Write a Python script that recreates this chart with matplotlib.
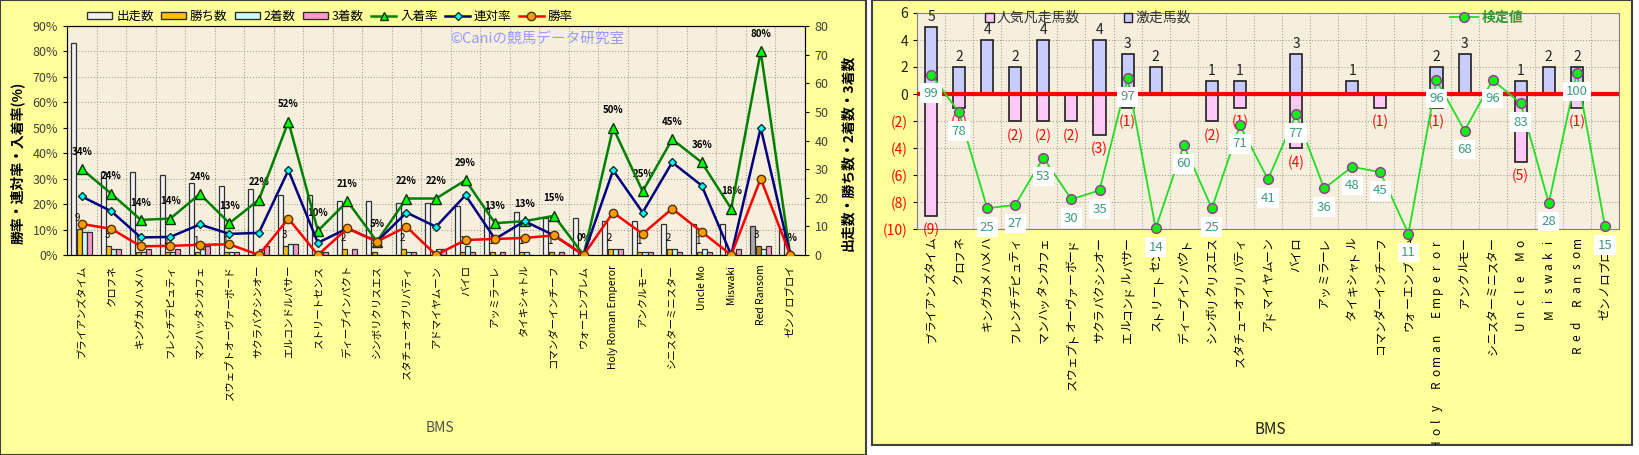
import matplotlib
matplotlib.use('Agg')
import matplotlib.pyplot as plt
import matplotlib.transforms as mtransforms
from matplotlib.patches import Patch
from matplotlib.lines import Line2D
import numpy as np

plt.rcParams['font.family'] = ['Noto Sans CJK JP', 'DejaVu Sans']

# ---- data ----
names = ['ブライアンズタイム', 'クロフネ', 'キングカメハメハ', 'フレンチデピュティ', 'マンハッタンカフェ',
         'スウェプトオーヴァーボード', 'サクラバクシンオー', 'エルコンドルパサー', 'ストリートセンス',
         'ディープインパクト', 'シンボリクリスエス', 'スタチューオブリバティ', 'アドマイヤムーン', 'バイロ',
         'アッミラーレ', 'タイキシャトル', 'コマンダーインチーフ', 'ウォーエンブレム', 'Holy Roman Emperor',
         'アンクルモー', 'シニスターミニスター', 'Uncle Mo', 'Miswaki', 'Red Ransom', 'ゼンノロブロイ']

runs = [74, 29, 29, 28, 25, 24, 23, 21, 21, 19, 19, 18, 18, 17, 16, 15, 13, 13, 12, 12, 11, 11, 11, 10, 9]
wins = [9, 3, 1, 1, 1, 1, 0, 3, 0, 2, 1, 2, 0, 1, 1, 1, 1, 0, 2, 1, 2, 1, 0, 3, 0]
seconds = [8, 2, 1, 1, 2, 1, 2, 4, 1, 0, 0, 1, 2, 3, 0, 1, 0, 0, 2, 1, 2, 2, 0, 2, 0]
thirds = [8, 2, 2, 2, 3, 1, 3, 4, 1, 2, 0, 1, 2, 1, 1, 0, 1, 0, 2, 1, 1, 1, 2, 3, 0]

win_rate = [12.2, 10.3, 3.4, 3.6, 4.0, 4.2, 0, 14.3, 0, 10.5, 5.3, 11.1, 0, 5.9, 6.3, 6.7, 7.7, 0,
            16.7, 8.3, 18.2, 9.1, 0, 30.0, 0]
ren_rate = [23.0, 17.2, 6.9, 7.1, 12.0, 8.3, 8.7, 33.3, 4.8, 10.5, 5.3, 16.7, 11.1, 23.5, 6.3, 13.3,
            7.7, 0, 33.3, 16.7, 36.4, 27.3, 0, 50.0, 0]
place_rate = [33.8, 24.1, 13.8, 14.3, 24.0, 12.5, 21.7, 52.4, 9.5, 21.1, 5.3, 22.2, 22.2, 29.4, 12.5,
              13.3, 15.4, 0, 50.0, 25.0, 45.5, 36.4, 18.2, 80.0, 0]
place_labels = ['34%', '24%', '14%', '14%', '24%', '13%', '22%', '52%', '10%', '21%', '5%', '22%', '22%',
                '29%', '13%', '13%', '15%', '0%', '50%', '25%', '45%', '36%', '18%', '80%', '0%']

kentei = [99, 78, 25, 27, 53, 30, 35, 97, 14, 60, 25, 71, 41, 77, 36, 48, 45, 11, 96, 68, 96, 83, 28, 100, 15]
gekiso = [5, 2, 4, 2, 4, 0, 4, 3, 2, 0, 1, 1, 0, 3, 0, 1, 0, 0, 2, 3, 0, 1, 2, 2, 0]
bonso = [9, 1, 0, 2, 2, 2, 3, 1, 0, 0, 2, 1, 0, 4, 0, 0, 1, 0, 1, 0, 0, 5, 0, 1, 0]

r_ticks = [-10, -8, -6, -4, -2, 0, 2, 4, 6]
r_ticklabels = ['(10)', '(8)', '(6)', '(4)', '(2)', '0', '2', '4', '6']

W, H = 1640, 455
fig = plt.figure(figsize=(16.4, 4.55), dpi=100)
fig.patch.set_facecolor('white')


def fx(px):
    return px / W


def fy(py):
    return 1 - py / H


def panel(rect):
    p = fig.add_axes(rect, zorder=-5)
    p.set_facecolor('#FFFF99')
    p.set_xticks([])
    p.set_yticks([])
    for s in p.spines.values():
        s.set_color('#404040')
        s.set_linewidth(1.5)
    return p


pl = panel([0, 0, fx(866), 1])
pr = panel([fx(872), 10 / H, fx(1632) - fx(872), 445 / H])

x = np.arange(len(names))
grid_c = '#A8A294'

# ---- left chart ----
ax1 = fig.add_axes([fx(67), fy(255), fx(805) - fx(67), fy(26) - fy(255)])
ax1.set_facecolor('#F6EFDD')
ax1.set_xlim(0, len(names))
ax1.set_ylim(0, 80)
run_col = ['#F2F2F2'] * len(names)
win_col = ['#FFC000'] * len(names)
run_col[23] = '#A8A8A8'
win_col[23] = '#B8860B'
ax1.bar(x + 0.22, runs, 0.17, color=run_col, edgecolor='#303030', lw=0.9, zorder=3)
ax1.bar(x + 0.41, wins, 0.17, color=win_col, edgecolor='#303030', lw=0.9, zorder=3)
ax1.bar(x + 0.58, seconds, 0.17, color='#CCFFFF', edgecolor='#303030', lw=0.9, zorder=3)
ax1.bar(x + 0.75, thirds, 0.17, color='#FF99CC', edgecolor='#303030', lw=0.9, zorder=3)
for i, w in enumerate(wins):
    if w:
        ax1.annotate(str(w), (i + 0.41, w), xytext=(-1, 8), textcoords='offset points',
                     ha='center', va='center', fontsize=7, zorder=4)

ax1.set_xticks(np.arange(len(names) + 1), minor=True)
ax1.grid(which='minor', axis='x', ls=':', color=grid_c, lw=0.8, zorder=1)
for p in range(10, 90, 10):
    ax1.axhline(p * 80 / 90, ls=':', color=grid_c, lw=0.8, zorder=1)
ax1.set_xticks(x + 0.5)
ax1.set_xticklabels(names, rotation=90, fontsize=7.5)
ax1.tick_params(axis='x', which='major', length=0, pad=7)
ax1.tick_params(axis='x', which='minor', length=0)
for s in ax1.spines.values():
    s.set_color('#606060')

tw = ax1.twinx()
tw.set_ylim(0, 90)
tw.yaxis.tick_left()
tw.set_yticks(range(0, 91, 10))
tw.set_yticklabels([f'{v}%' for v in range(0, 91, 10)])
tw.tick_params(axis='y', labelsize=9, labelcolor='#404040', length=3)
ax1.yaxis.tick_right()
ax1.set_yticks(range(0, 81, 10))
ax1.tick_params(axis='y', labelsize=9, labelcolor='#404040', length=3, pad=4)

tw.plot(x + 0.5, place_rate, color='#008000', lw=1.8, marker='^', ms=6.5, mfc='#00FF00', mec='#103010', zorder=5)
tw.plot(x + 0.5, ren_rate, color='#000080', lw=1.8, marker='D', ms=4.5, mfc='#00FFFF', mec='#103030', zorder=6)
tw.plot(x + 0.5, win_rate, color='#FF0000', lw=1.8, marker='o', ms=6, mfc='#FF9900', mec='#553300', zorder=7)
for i, (v, s) in enumerate(zip(place_rate, place_labels)):
    tw.annotate(s, (i + 0.5, v), xytext=(0, 12.5), textcoords='offset points',
                ha='center', va='center', fontsize=7, fontweight='bold')
tw.text(0.519, 0.94, '©Caniの競馬データ研究室', transform=tw.transAxes, color='#9999FF',
        fontsize=10.5, ha='left', va='center')

fig.legend(handles=[Patch(fc='#F2F2F2', ec='#303030'), Patch(fc='#FFC000', ec='#303030'),
                    Patch(fc='#CCFFFF', ec='#303030'), Patch(fc='#FF99CC', ec='#303030'),
                    Line2D([], [], color='#008000', lw=1.8, marker='^', ms=6, mfc='#00FF00', mec='#103010'),
                    Line2D([], [], color='#000080', lw=1.8, marker='D', ms=4.5, mfc='#00FFFF', mec='#103030'),
                    Line2D([], [], color='#FF0000', lw=1.8, marker='o', ms=6, mfc='#FF9900', mec='#553300')],
           labels=['出走数', '勝ち数', '2着数', '3着数', '入着率', '連対率', '勝率'],
           loc='center', bbox_to_anchor=(fx(330), fy(16.5)), ncol=7, frameon=False, fontsize=9,
           handlelength=2.0, handleheight=0.5, handletextpad=0.3, columnspacing=0.6, borderpad=0)

fig.text(fx(17), fy(163), '勝率・連対率・入着率(%)', rotation=90, ha='center', va='center',
         fontsize=10, fontweight='bold')
fig.text(fx(848), fy(153), '出走数・勝ち数・2着数・3着数', rotation=90, ha='center', va='center',
         fontsize=10, fontweight='bold')
fig.text(fx(440), fy(428), 'BMS', ha='center', va='center', fontsize=10, color='#505050')

# ---- right chart ----
ax2 = fig.add_axes([fx(917), fy(229), fx(1619) - fx(917), fy(13) - fy(229)])
ax2.set_facecolor('#F6EFDD')
ax2.set_xlim(0, len(names))
ax2.set_ylim(-10, 6)
ax2.bar(x + 0.5, gekiso, 0.43, color='#C8CCFF', edgecolor='#202020', lw=1.2, zorder=3)
ax2.bar(x + 0.5, [-b for b in bonso], 0.43, color='#FFC8F6', edgecolor='#202020', lw=1.2, zorder=3)
ax2.axhline(0, color='#FF0000', lw=3, zorder=4)
for i, g in enumerate(gekiso):
    if g:
        ax2.annotate(str(g), (i + 0.5, g), xytext=(0, 7), textcoords='offset points',
                     ha='center', va='center', fontsize=10, color='#202020', zorder=5)
for i, b in enumerate(bonso):
    if b:
        ax2.annotate(f'({b})', (i + 0.5, -b), xytext=(0, -10.5), textcoords='offset points',
                     ha='center', va='center', fontsize=10, color='#FF0000', zorder=5,
                     annotation_clip=False)

ax2.set_xticks(np.arange(len(names) + 1), minor=True)
ax2.grid(which='minor', axis='x', ls=':', color=grid_c, lw=0.8, zorder=1)
ax2.set_yticks(r_ticks)
ax2.set_yticklabels(r_ticklabels)
ax2.grid(which='major', axis='y', ls=':', color=grid_c, lw=0.8, zorder=1)
for lab, v in zip(ax2.get_yticklabels(), r_ticks):
    lab.set_color('#FF0000' if v < 0 else '#202020')
ax2.tick_params(axis='y', labelsize=10, length=3)
ax2.set_xticks(x + 0.5)
ax2.set_xticklabels([])
ax2.tick_params(axis='x', which='both', length=0)
for s in ax2.spines.values():
    s.set_color('#808080')

trans = mtransforms.blended_transform_factory(ax2.transData, ax2.transAxes)
step = 11.8 / 216
for i, name in enumerate(names):
    n = len(name)
    for k, ch in enumerate(name):
        yy = -(8 / 216 + (n - 1 - k + 0.5) * step)
        t = ax2.text(i + 0.5, yy, ch, transform=trans, rotation=90, ha='center', va='center',
                     fontsize=8.5, clip_on=True)
        t.set_clip_path(None)
        t.set_clip_box(pr.bbox)

tw2 = ax2.twinx()
tw2.set_ylim(13.6, 133)
tw2.set_yticks([])
for s in tw2.spines.values():
    s.set_visible(False)
tw2.plot(x + 0.5, kentei, color='#22DD22', lw=1.3, marker='o', ms=7, mfc='#11EE11', mec='#993399',
         mew=1, clip_on=False, zorder=5)
for i, v in enumerate(kentei):
    tw2.annotate(str(v), (i + 0.5, v), xytext=(0, -13.5), textcoords='offset points',
                 ha='center', va='center', fontsize=9.5, color='#3D9A80', annotation_clip=False,
                 bbox=dict(boxstyle='square,pad=0.25', fc='white', ec='none'), zorder=6)

fig.legend(handles=[Patch(fc='#FFC8F6', ec='#202020'), Patch(fc='#C8CCFF', ec='#202020')],
           labels=['人気凡走馬数', '激走馬数'], loc='center', bbox_to_anchor=(fx(1088), fy(18)),
           ncol=2, frameon=False, fontsize=10, labelcolor='#333333', handlelength=0.6,
           handleheight=0.6, handletextpad=0.2, columnspacing=3.2, borderpad=0)
fig.legend(handles=[Line2D([], [], color='#22DD22', lw=1.3, marker='o', ms=7, mfc='#11EE11', mec='#993399')],
           labels=['検定値'], loc='center', bbox_to_anchor=(fx(1487), fy(18)), frameon=False,
           prop={'size': 10, 'weight': 'bold'}, labelcolor='#339933', handlelength=2.0,
           handletextpad=0.3, borderpad=0)
fig.text(fx(1270), fy(430), 'BMS', ha='center', va='center', fontsize=11, color='#202020')

fig.savefig('out.png', dpi=100)
